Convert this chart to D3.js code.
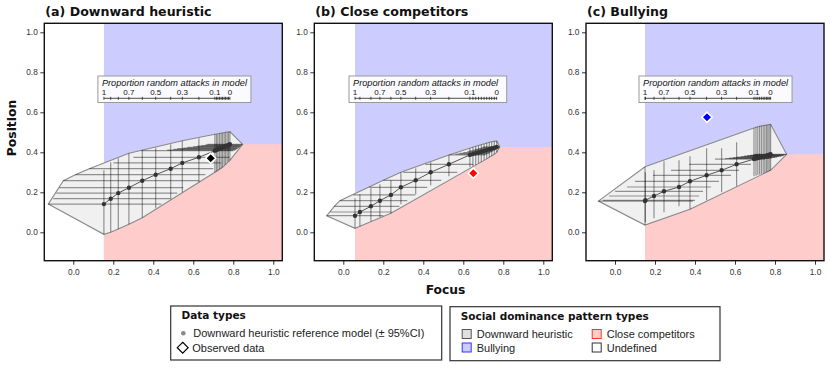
<!DOCTYPE html>
<html><head><meta charset="utf-8">
<script src="https://cdn.jsdelivr.net/npm/d3@7"></script>
<style>body{margin:0;background:#fff}</style>
</head><body><svg id="c" width="830" height="392"></svg>
<script>
// ---------------- DATA ----------------
const panelTitles = ["(a) Downward heuristic", "(b) Close competitors", "(c) Bullying"];
const proportions = [1,0.9,0.8,0.7,0.6,0.5,0.4,0.3,0.2,0.1,0.09,0.08,0.07,0.06,0.05,0.04,0.03,0.02,0.01,0];
const labelledProportions = [1,0.7,0.5,0.3,0.1,0];
const axisTicks = [0,0.2,0.4,0.6,0.8,1.0];

const focusA    = [0.153,0.187,0.225,0.278,0.345,0.412,0.487,0.545,0.628,0.708,0.716,0.723,0.731,0.739,0.746,0.754,0.761,0.769,0.776,0.783];
const positionA = [0.141,0.168,0.196,0.223,0.258,0.288,0.318,0.347,0.375,0.408,0.411,0.415,0.418,0.421,0.425,0.428,0.431,0.434,0.437,0.440];
const focusLoA  = [-0.125,-0.10,-0.085,-0.07,-0.05,0.01,0.08,0.20,0.30,0.34,0.47,0.50,0.52,0.55,0.57,0.60,0.62,0.64,0.66,0.67];
const focusHiA  = [0.44,0.49,0.52,0.55,0.63,0.66,0.70,0.74,0.78,0.80,0.81,0.815,0.82,0.825,0.83,0.833,0.836,0.84,0.843,0.847];
const posLoA    = [-0.01,0.0,0.016,0.04,0.073,0.12,0.17,0.20,0.25,0.30,0.305,0.31,0.315,0.32,0.325,0.335,0.34,0.35,0.355,0.36];
const posHiA    = [0.31,0.35,0.37,0.395,0.41,0.423,0.44,0.458,0.47,0.49,0.49,0.492,0.494,0.495,0.497,0.498,0.50,0.50,0.502,0.503];

const focusB    = [0.0585,0.083,0.138,0.183,0.238,0.288,0.362,0.437,0.528,0.633,0.648,0.662,0.676,0.690,0.704,0.717,0.730,0.742,0.755,0.767];
const positionB = [0.083,0.1015,0.13,0.158,0.187,0.225,0.26,0.30,0.34,0.387,0.391,0.395,0.399,0.403,0.407,0.411,0.415,0.419,0.423,0.427];
const focusLoB  = [-0.083,-0.065,-0.045,-0.017,0.05,0.13,0.20,0.30,0.41,0.53,0.56,0.58,0.60,0.62,0.63,0.65,0.66,0.675,0.69,0.70];
const focusHiB  = [0.20,0.24,0.28,0.32,0.36,0.42,0.49,0.57,0.65,0.71,0.72,0.73,0.735,0.745,0.75,0.76,0.765,0.772,0.778,0.783];
const posLoB    = [0.02,0.03,0.055,0.075,0.095,0.14,0.19,0.235,0.28,0.325,0.33,0.337,0.345,0.352,0.36,0.367,0.375,0.383,0.39,0.40];
const posHiB    = [0.17,0.19,0.22,0.24,0.26,0.30,0.32,0.35,0.387,0.42,0.425,0.43,0.434,0.438,0.442,0.446,0.45,0.453,0.455,0.457];

const focusC    = [0.15,0.152,0.195,0.245,0.32,0.375,0.458,0.533,0.608,0.695,0.705,0.714,0.723,0.732,0.741,0.749,0.757,0.764,0.771,0.778];
const positionC = [0.156,0.16,0.1815,0.205,0.2265,0.255,0.285,0.31,0.34,0.366,0.369,0.371,0.374,0.376,0.379,0.381,0.383,0.385,0.388,0.39];
const focusLoC  = [-0.083,-0.06,-0.03,0.0,0.06,0.10,0.19,0.28,0.37,0.50,0.55,0.57,0.59,0.61,0.63,0.645,0.66,0.675,0.69,0.70];
const focusHiC  = [0.39,0.40,0.42,0.44,0.48,0.52,0.58,0.62,0.68,0.75,0.77,0.785,0.80,0.81,0.82,0.83,0.838,0.845,0.852,0.858];
const posLoC    = [0.036,0.05,0.07,0.10,0.13,0.115,0.16,0.20,0.23,0.28,0.283,0.286,0.289,0.292,0.295,0.298,0.301,0.304,0.307,0.31];
const posHiC    = [0.328,0.30,0.31,0.355,0.36,0.38,0.42,0.42,0.45,0.52,0.525,0.528,0.53,0.532,0.534,0.535,0.536,0.538,0.539,0.54];

const observedFocus    = [0.687, 0.65, 0.46];
const observedPosition = [0.37, 0.295, 0.575];

const dataTypeLabels = ["Downward heuristic reference model (\u00b1 95%CI)", "Observed data"];
const patternLabels = ["Downward heuristic", "Close competitors", "Bullying", "Undefined"];

// ---------------- STYLE / LAYOUT ----------------
const observedColors = ["#000000", "#ff0000", "#0000ff"];
const patternFill = ["#e0e0e0", "#ffcccc", "#ccccff", "#ffffff"];
const patternStroke = ["#555555", "#ff3333", "#3333ff", "#333333"];
const BLUE = "#ccccff", PINK = "#ffcccc";
const panelLeft = [44.3, 314.3, 586];
const pw = 238, plotTop = 23.3, plotBottom = 260.7;
const xDomain = [-0.145, 1.045], yDomain = [-0.142, 1.045];
const SANS = "'Liberation Sans', Arial, sans-serif";
const BOLD = "'DejaVu Sans', Verdana, sans-serif";

const panels = [
  {f: focusA, p: positionA, fl: focusLoA, fh: focusHiA, pl: posLoA, ph: posHiA},
  {f: focusB, p: positionB, fl: focusLoB, fh: focusHiB, pl: posLoB, ph: posHiB},
  {f: focusC, p: positionC, fl: focusLoC, fh: focusHiC, pl: posLoC, ph: posHiC}
];

const svg = d3.select("#c");
const defs = svg.append("defs");

panels.forEach((d, i) => {
  const x = d3.scaleLinear().domain(xDomain).range([panelLeft[i], panelLeft[i] + pw]);
  const y = d3.scaleLinear().domain(yDomain).range([plotBottom, plotTop]);
  const g = svg.append("g");
  const cid = "clip" + i;
  defs.append("clipPath").attr("id", cid).append("rect")
    .attr("x", panelLeft[i]).attr("y", plotTop).attr("width", pw).attr("height", plotBottom - plotTop);
  const plot = g.append("g").attr("clip-path", `url(#${cid})`);
  const n = d.f.length;
  const x0 = d.f[0];
  plot.append("rect").attr("x", x(x0)).attr("y", y(yDomain[1]))
    .attr("width", x(xDomain[1]) - x(x0)).attr("height", y(yDomain[0]) - y(yDomain[1])).attr("fill", BLUE);
  const pink = [[x0, yDomain[0]]];
  for (let k = 0; k < n; k++) pink.push([d.f[k], d.p[k]]);
  pink.push([xDomain[1], d.p[n - 1]], [xDomain[1], yDomain[0]]);
  plot.append("path").attr("d", d3.line().x(v => x(v[0])).y(v => y(v[1]))(pink) + "Z").attr("fill", PINK);
  const pts = [];
  for (let k = 0; k < n; k++) {
    pts.push([d.fl[k], d.p[k]], [d.fh[k], d.p[k]], [d.f[k], d.pl[k]], [d.f[k], d.ph[k]]);
  }
  const hull = d3.polygonHull(pts.map(v => [x(v[0]), y(v[1])]));
  plot.append("path").attr("d", "M" + hull.join("L") + "Z")
    .attr("fill", "#f0f0f0").attr("stroke", "#8a8a8a").attr("stroke-width", 1.1);
  for (let k = 0; k < n; k++) {
    plot.append("line").attr("x1", x(d.fl[k])).attr("x2", x(d.fh[k])).attr("y1", y(d.p[k])).attr("y2", y(d.p[k]))
      .attr("stroke", "#000").attr("stroke-opacity", 0.4).attr("stroke-width", 1.2);
    plot.append("line").attr("x1", x(d.f[k])).attr("x2", x(d.f[k])).attr("y1", y(d.pl[k])).attr("y2", y(d.ph[k]))
      .attr("stroke", "#000").attr("stroke-opacity", 0.4).attr("stroke-width", 1.2);
  }
  const idx = d3.range(n);
  plot.append("path").attr("d", d3.line().x(k => x(d.f[k])).y(k => y(d.p[k]))(idx))
    .attr("fill", "none").attr("stroke", "#555").attr("stroke-width", 1);
  plot.selectAll(null).data(idx).join("circle")
    .attr("cx", k => x(d.f[k])).attr("cy", k => y(d.p[k])).attr("r", 2.2).attr("fill", "#333");
  plot.append("path").attr("d", d3.symbol(d3.symbolDiamond2, 66)())
    .attr("transform", `translate(${x(observedFocus[i])},${y(observedPosition[i])})`)
    .attr("fill", observedColors[i]).attr("stroke", "#fff").attr("stroke-width", 1.6);

  const ax0 = x(d.f[0]), ax1 = x(d.f[n - 1]);
  const ins = g.append("g");
  const box = ins.append("rect").attr("y", 76).attr("height", 26.5)
    .attr("fill", "#fff").attr("fill-opacity", 0.92).attr("stroke", "#999").attr("stroke-width", 1);
  const tt = ins.append("text").attr("x", ax0 - 2).attr("y", 85.7)
    .attr("font-family", SANS).attr("font-style", "italic").attr("font-size", 9.2).attr("fill", "#111")
    .text("Proportion random attacks in model");
  const tw = tt.node().getComputedTextLength();
  box.attr("x", ax0 - 6).attr("width", Math.max(tw + 8, ax1 - ax0 + 16));
  ins.append("line").attr("x1", ax0).attr("x2", ax1).attr("y1", 98.3).attr("y2", 98.3).attr("stroke", "#222").attr("stroke-width", 0.8);
  proportions.forEach((pr, k) => {
    ins.append("line").attr("x1", x(d.f[k])).attr("x2", x(d.f[k])).attr("y1", 96.8).attr("y2", 99.8)
      .attr("stroke", "#222").attr("stroke-width", 0.8);
    if (labelledProportions.includes(pr)) {
      ins.append("text").attr("x", x(d.f[k])).attr("y", 94.8).attr("text-anchor", "middle")
        .attr("font-family", SANS).attr("font-size", 8).attr("fill", "#111").text(String(pr));
    }
  });

  const xa = g.append("g").attr("transform", `translate(0,${plotBottom})`)
    .call(d3.axisBottom(x).tickValues(axisTicks).tickFormat(d3.format(".1f")).tickSize(4).tickSizeOuter(0));
  const ya = g.append("g").attr("transform", `translate(${panelLeft[i]},0)`)
    .call(d3.axisLeft(y).tickValues(axisTicks).tickFormat(d3.format(".1f")).tickSize(4).tickSizeOuter(0));
  [xa, ya].forEach(a => {
    a.select(".domain").remove();
    a.selectAll("text").attr("font-family", SANS).attr("font-size", 8.3).attr("fill", "#333");
    a.selectAll("line").attr("stroke", "#333");
  });
  xa.selectAll("text").attr("dy", "1.1em").attr("y", 5);
  ya.selectAll("text").attr("x", -6.5);
  g.append("rect").attr("x", panelLeft[i]).attr("y", plotTop).attr("width", pw).attr("height", plotBottom - plotTop)
    .attr("fill", "none").attr("stroke", "#111").attr("stroke-width", 1.4);
  g.append("text").attr("x", panelLeft[i] + 1).attr("y", 15.5)
    .attr("font-family", BOLD).attr("font-weight", "bold").attr("font-size", 12.6).attr("fill", "#111")
    .text(panelTitles[i]);
});

svg.append("text").attr("x", 445.5).attr("y", 294).attr("text-anchor", "middle")
  .attr("font-family", BOLD).attr("font-weight", "bold").attr("font-size", 12.3).attr("fill", "#111").text("Focus");
svg.append("text").attr("transform", "translate(16,128) rotate(-90)").attr("text-anchor", "middle")
  .attr("font-family", BOLD).attr("font-weight", "bold").attr("font-size", 12.3).attr("fill", "#111").text("Position");

const l1 = svg.append("g");
l1.append("rect").attr("x", 170.7).attr("y", 306).attr("width", 271).attr("height", 54)
  .attr("fill", "#fff").attr("stroke", "#333").attr("stroke-width", 1.2);
l1.append("text").attr("x", 181.5).attr("y", 319).attr("font-family", BOLD).attr("font-weight", "bold")
  .attr("font-size", 10.5).attr("fill", "#111").text("Data types");
l1.append("circle").attr("cx", 183.3).attr("cy", 333.3).attr("r", 2.3).attr("fill", "#888");
l1.append("text").attr("x", 193.3).attr("y", 337.3).attr("font-family", SANS).attr("font-size", 11).attr("fill", "#222").text(dataTypeLabels[0]);
l1.append("path").attr("d", d3.symbol(d3.symbolDiamond2, 75)()).attr("transform", "translate(182.7,347.7)")
  .attr("fill", "#fff").attr("stroke", "#000").attr("stroke-width", 1.2);
l1.append("text").attr("x", 192.3).attr("y", 351.7).attr("font-family", SANS).attr("font-size", 11).attr("fill", "#222").text(dataTypeLabels[1]);

const l2 = svg.append("g");
l2.append("rect").attr("x", 450).attr("y", 306.7).attr("width", 270).attr("height", 54)
  .attr("fill", "#fff").attr("stroke", "#333").attr("stroke-width", 1.2);
l2.append("text").attr("x", 460.7).attr("y", 319.5).attr("font-family", BOLD).attr("font-weight", "bold")
  .attr("font-size", 10.5).attr("fill", "#111").text("Social dominance pattern types");
const lx = [462.2, 592.2, 462.2, 592.2], ly = [329.5, 329.5, 343, 343];
patternLabels.forEach((lab, k) => {
  l2.append("rect").attr("x", lx[k]).attr("y", ly[k]).attr("width", 9).attr("height", 9)
    .attr("fill", patternFill[k]).attr("stroke", patternStroke[k]).attr("stroke-width", 1);
  l2.append("text").attr("x", lx[k] + 14.5).attr("y", ly[k] + 8.6).attr("font-family", SANS).attr("font-size", 11)
    .attr("fill", "#222").text(lab);
});
</script></body></html>
